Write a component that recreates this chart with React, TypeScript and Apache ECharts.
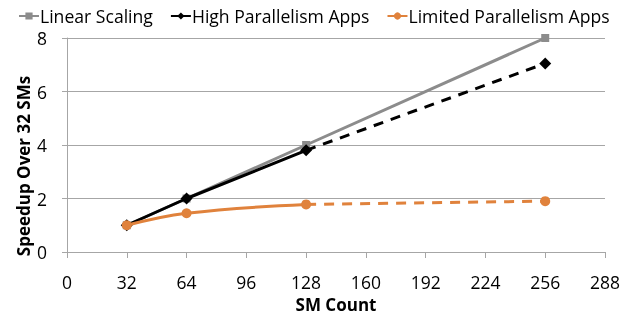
import React, { useEffect, useRef } from "react";
import * as echarts from "echarts";

const xTicks = [0, 32, 64, 96, 128, 160, 192, 224, 256, 288];
const linearX = [32, 64, 128, 256];
const linearY = [1, 2, 4, 8];
const highSolidX = [32, 64, 128];
const highSolidY = [1, 2, 3.8];
const highDashX = [128, 256];
const highDashY = [3.8, 7.05];
const limSolidX = [32, 64, 128];
const limSolidY = [1, 1.45, 1.78];
const limDashX = [128, 256];
const limDashY = [1.78, 1.9];
const yTitle = "Speedup Over 32 SMs";
const xTitle = "SM Count";

const GRAY = "#8c8c8c";
const BLACK = "#000000";
const ORANGE = "#e0823c";
const FONT = "Open Sans";

const pair = (xs: number[], ys: number[]) => xs.map((x, i) => [x, ys[i]]);
const dashPair = (xs: number[], ys: number[]) =>
  xs.map((x, i) => (i === 0 ? { value: [x, ys[i]], symbol: "none" } : [x, ys[i]]));

export default function App() {
  const ref = useRef<HTMLDivElement>(null);
  useEffect(() => {
    if (!ref.current) return;
    const chart = echarts.init(ref.current, undefined, { renderer: "svg" });
    chart.setOption({
      animation: false,
      textStyle: { fontFamily: FONT },
      legend: {
        data: ["Linear Scaling", "High Parallelism Apps", "Limited Parallelism Apps"],
        left: 18,
        top: 7,
        width: 700,
        padding: [0, 0, 0, 0],
        itemGap: 17,
        itemWidth: 20,
        itemHeight: 9,
        textStyle: { fontFamily: FONT, fontSize: 17.6, color: "#000", padding: [0, 0, 0, -4] },
      },
      grid: { left: 67, right: 26, top: 38, bottom: 66 },
      graphic: [
        {
          type: "text",
          x: 23,
          y: 166,
          rotation: Math.PI / 2,
          style: {
            text: yTitle,
            font: `bold 17px '${FONT}'`,
            fill: "#000",
            align: "center",
            verticalAlign: "middle",
          },
        },
      ],
      xAxis: {
        type: "value",
        min: 0,
        max: 288,
        interval: 32,
        name: xTitle,
        nameLocation: "middle",
        nameGap: 42,
        nameTextStyle: { fontFamily: FONT, fontSize: 17, fontWeight: "bold", color: "#000" },
        axisLine: { show: true, lineStyle: { color: "#a6a6a6", width: 1 } },
        axisTick: { show: true, length: 6, lineStyle: { color: "#a6a6a6" } },
        axisLabel: {
          fontFamily: FONT,
          fontSize: 17.5,
          color: "#000",
          margin: 21,
          formatter: (v: number) => (xTicks.includes(v) ? String(v) : ""),
        },
        splitLine: { show: false },
      },
      yAxis: {
        type: "value",
        min: 0,
        max: 8,
        interval: 2,
        axisLine: { show: true, lineStyle: { color: "#a6a6a6", width: 1 } },
        axisTick: { show: true, length: 5, lineStyle: { color: "#a6a6a6" } },
        axisLabel: { fontFamily: FONT, fontSize: 17.5, color: "#000", margin: 20 },
        splitLine: { show: true, lineStyle: { color: "#a6a6a6", width: 1 } },
      },
      series: [
        {
          name: "Linear Scaling",
          type: "line",
          data: pair(linearX, linearY),
          symbol: "rect",
          symbolSize: 8,
          lineStyle: { color: GRAY, width: 3 },
          itemStyle: { color: GRAY },
          z: 2,
        },
        {
          name: "High Parallelism Apps",
          type: "line",
          data: pair(highSolidX, highSolidY),
          symbol: "diamond",
          symbolSize: 12,
          lineStyle: { color: BLACK, width: 3 },
          itemStyle: { color: BLACK },
          z: 3,
        },
        {
          name: "High Parallelism Apps",
          type: "line",
          data: dashPair(highDashX, highDashY),
          symbol: "diamond",
          symbolSize: 12,
          lineStyle: { color: BLACK, width: 3, type: [10, 8] },
          itemStyle: { color: BLACK },
          z: 3,
        },
        {
          name: "Limited Parallelism Apps",
          type: "line",
          data: pair(limSolidX, limSolidY),
          smooth: 0.4,
          symbol: "circle",
          symbolSize: 10,
          lineStyle: { color: ORANGE, width: 3 },
          itemStyle: { color: ORANGE },
          z: 4,
        },
        {
          name: "Limited Parallelism Apps",
          type: "line",
          data: dashPair(limDashX, limDashY),
          symbol: "circle",
          symbolSize: 10,
          lineStyle: { color: ORANGE, width: 3, type: [10, 8] },
          itemStyle: { color: ORANGE },
          z: 4,
        },
      ],
    });
    return () => chart.dispose();
  }, []);
  return <div ref={ref} style={{ width: 631, height: 318, position: "fixed", left: 0, top: 0 }} />;
}
